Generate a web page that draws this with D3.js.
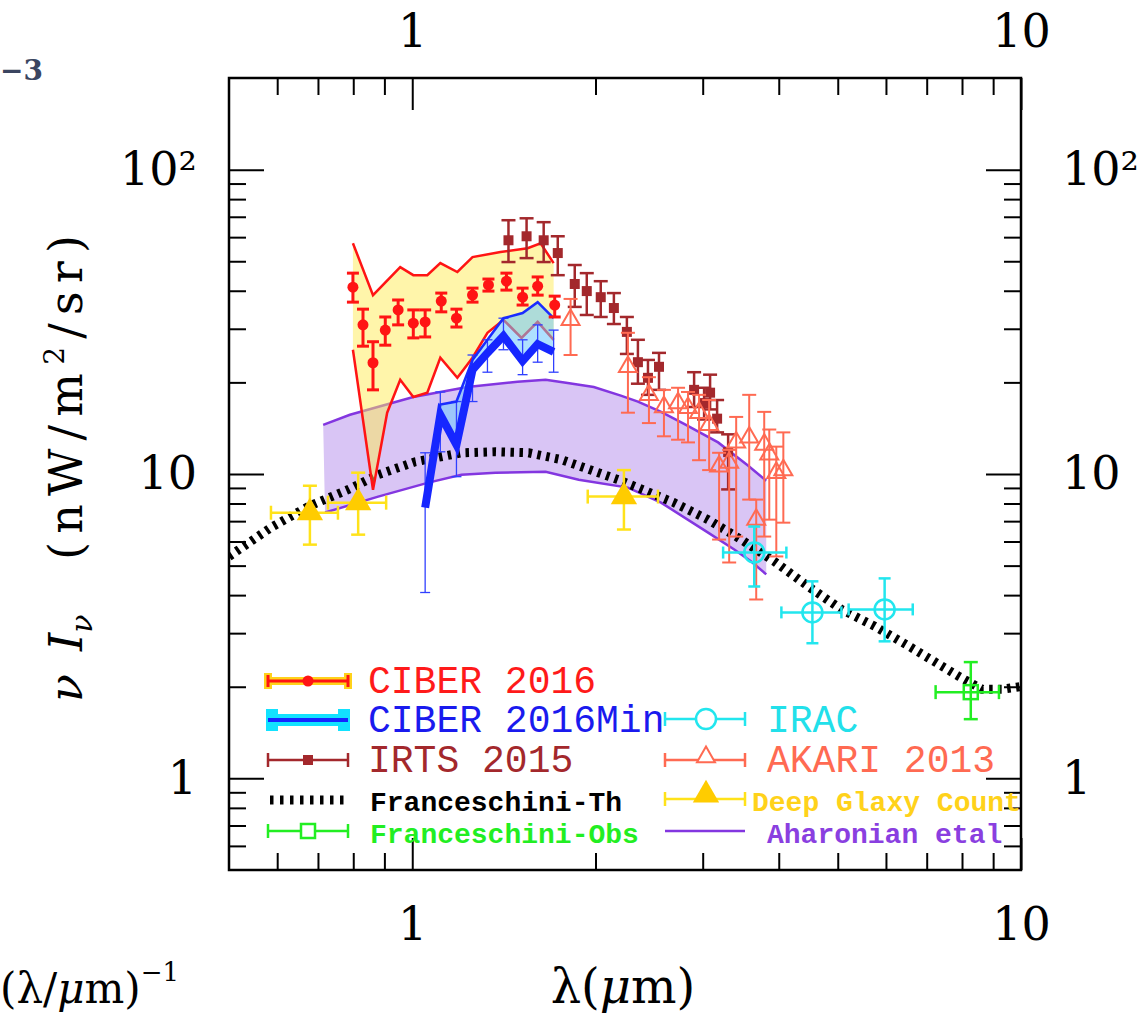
<!DOCTYPE html>
<html lang="en">
<head>
  <meta charset="UTF-8" />
  <title>Extragalactic background light</title>
  <script src="https://d3js.org/d3.v7.min.js"></script>
  <style>
    body { margin: 0; background: #fff; }
    svg { display: block; }
  </style>
</head>
<body>
  <div id="chart"></div>
  <script>
    // ---- data (lambda in um, nu I_nu in nW/m2/sr) ----
    const franTh = [[0.5,5.36],[0.586,6.67],[0.674,7.81],[0.784,8.88],[0.879,9.95],[1.011,10.97],[1.204,11.74],[1.37,11.83],[1.553,11.74],[1.76,11.14],[2.201,9.51],[2.692,8.05],[3.062,7.08],[3.47,6.09],[3.933,5.16],[4.474,4.27],[5.07,3.59],[5.75,3.16],[6.54,2.72],[7.9,2.165],[8.63,1.963],[9.3,1.963],[10.08,2.007]];

    const ahUpper = [[0.714,14.5],[0.79,15.65],[1.004,17.9],[1.232,19.3],[1.489,20.1],[1.656,20.4],[1.8,19.9],[1.987,19.3],[2.201,18.1],[2.348,17.3],[2.563,16.0],[2.796,14.6],[3.18,12.7],[3.564,10.65],[3.815,9.5]];
    const ahLower = [[0.719,7.47],[0.879,8.43],[1.063,9.37],[1.204,9.95],[1.37,10.1],[1.656,10.17],[1.877,9.58],[2.261,9.02],[2.563,8.05],[3.062,6.42],[3.38,5.65],[3.604,5.16],[3.815,4.68]];

    const ciberUpper = [[0.799,57.3],[0.862,38.7],[0.9555,47.8],[1.004,45.0],[1.0585,45.0],[1.112,49.3],[1.186,46.1],[1.256,51.6],[1.396,53.6],[1.547,55.2],[1.625,57.3],[1.707,49.3]];
    const ciberLower = [[0.799,25.6],[0.862,8.88],[0.9095,15.9],[0.9555,20.4],[1.004,17.9],[1.0585,18.5],[1.112,24.1],[1.186,20.7],[1.256,24.1],[1.329,29.1],[1.412,32.1],[1.512,28.0],[1.607,31.6],[1.707,27.6]];
    // lambda, value, low, high
    const ciberPts = [[0.799,41.1,36.7,45.7],[0.83,30.9,26.3,34.8],[0.862,23.2,18.9,27.2],[0.903,29.7,26.5,32.8],[0.948,34.6,30.9,37.3],[1.004,31.3,28.0,34.6],[1.05,31.6,28.2,34.6],[1.116,37.0,34.1,39.3],[1.182,32.5,30.4,34.8],[1.256,38.7,36.7,40.8],[1.334,41.8,39.9,43.7],[1.428,43.0,40.2,45.7],[1.518,38.1,35.9,40.8],[1.607,41.4,38.7,44.4],[1.714,35.9,32.8,38.4]];

    const minLam  = [1.05, 1.112, 1.182, 1.256, 1.329, 1.412, 1.518, 1.607, 1.707];
    const minLow  = [7.75, 15.65, 12.48, 21.98, 25.0, 28.4, 23.5, 26.7, 25.2];
    const minHigh = [7.93, 16.9, 17.3, 23.7, 27.6, 32.5, 33.8, 36.7, 32.5];
    const minErrLo = [4.08, 11.83, 9.8, 17.3, 21.6, 25.6, 21.2, 23.3, 21.6];
    const minErrHi = [11.74, 18.6, 17.3, 24.6, 27.6, 32.5, 27.6, 30.9, 29.7];

    const irts = [[1.439,58.6,49.7,68.2],[1.541,60.4,51.2,69.2],[1.644,58.6,49.7,67.2],[1.734,53.2,45.0,60.4],[1.849,42.1,35.4,48.6],[1.935,39.9,33.3,45.7],[2.04,38.1,32.8,43.0],[2.144,35.1,31.1,39.3],[2.252,29.3,24.8,32.8],[2.348,23.3,19.8,27.6],[2.439,20.7,18.2,23.7],[2.543,22.5,18.9,25.0],[2.904,18.9,16.6,21.6],[3.016,17.1,15.1,19.2],[3.085,18.5,16.3,21.2],[3.168,15.2,13.7,17.5],[3.303,11.8,8.9,13.5]];

    const akari = [[1.82,32.1,24.6,37.6],[2.261,22.5,15.9,29.1],[2.448,18.2,14.7,20.8],[2.591,16.6,13.3,18.9],[2.733,17.1,12.96,19.2],[2.838,16.5,12.7,18.6],[2.959,15.9,11.1,18.2],[3.074,14.5,10.3,17.5],[3.192,10.6,6.09,11.74],[3.316,10.9,5.12,12.0],[3.405,12.7,6.23,15.4],[3.577,13.2,8.24,18.2],[3.673,7.08,3.87,8.24],[3.786,12.5,6.23,16.0],[3.859,11.6,7.08,14.0],[3.963,10.1,5.36,12.3],[4.07,10.3,6.92,13.7]];

    // lambda, value, lamLo, lamHi, low, high
    const irac = [[3.646,5.52,3.241,4.117,4.27,6.72],[4.543,3.51,4.04,5.07,2.78,4.44],[5.97,3.59,5.21,6.64,2.82,4.54]];
    const franObs = [[8.27,1.92,7.24,9.2,1.565,2.41]];
    const deepCount = [[0.679,7.46,0.586,0.755,5.86,9.15],[0.815,8.05,0.727,0.906,6.32,10.1],[2.227,8.43,1.942,2.533,6.57,10.3]];

    const xMajor = [1, 10];
    const xMinor = [0.6, 0.7, 0.8, 0.9, 2, 3, 4, 5, 6, 7, 8, 9];
    const yMajor = [1, 10, 100];
    const yMinor = [0.6, 0.7, 0.8, 0.9, 2, 3, 4, 5, 6, 7, 8, 9, 20, 30, 40, 50, 60, 70, 80, 90];
    const yLabels = {1: "1", 10: "10", 100: "10\u00b2"};

    // ---- layout ----
    const width = 1147, height = 1022;
    const L = 229, R = 1021, T = 78, B = 870;

    const svg = d3.select("#chart").append("svg")
      .attr("width", width).attr("height", height);

    const x = d3.scaleLog().domain([0.5, 10]).range([L, R]);
    const y = d3.scaleLog().domain([0.5, 200]).range([B, T]);

    svg.append("defs").append("clipPath").attr("id", "clip")
      .append("rect").attr("x", L).attr("y", T).attr("width", R - L).attr("height", B - T);

    const plot = svg.append("g").attr("clip-path", "url(#clip)");
    const line = d3.line().x(d => x(d[0])).y(d => y(d[1]));

    function errV(g, l, lo, hi, color, w, cap) {
      const px = x(l);
      g.append("line").attr("x1", px).attr("x2", px).attr("y1", y(lo)).attr("y2", y(hi))
        .attr("stroke", color).attr("stroke-width", w);
      [lo, hi].forEach(v => g.append("line")
        .attr("x1", px - cap / 2).attr("x2", px + cap / 2).attr("y1", y(v)).attr("y2", y(v))
        .attr("stroke", color).attr("stroke-width", w));
    }
    function errH(g, v, lo, hi, color, w, cap) {
      const py = y(v);
      g.append("line").attr("x1", x(lo)).attr("x2", x(hi)).attr("y1", py).attr("y2", py)
        .attr("stroke", color).attr("stroke-width", w);
      [lo, hi].forEach(l => g.append("line")
        .attr("x1", x(l)).attr("x2", x(l)).attr("y1", py - cap / 2).attr("y2", py + cap / 2)
        .attr("stroke", color).attr("stroke-width", w));
    }

    // Aharonian band
    plot.append("path")
      .attr("d", line(ahUpper.concat(ahLower.slice().reverse())) + "Z")
      .attr("fill", "#d9c5f5").attr("stroke", "none");
    [ahUpper, ahLower].forEach(s => plot.append("path").attr("d", line(s))
      .attr("fill", "none").attr("stroke", "#8336e0").attr("stroke-width", 2.5));

    // Franceschini theory
    plot.append("path").attr("d", line(franTh))
      .attr("fill", "none").attr("stroke", "#000").attr("stroke-width", 9)
      .attr("stroke-dasharray", "3.5 5.5");

    // CIBER 2016 band
    plot.append("path")
      .attr("d", line(ciberUpper.concat(ciberLower.slice().reverse())) + "Z")
      .attr("fill", "#ffeb55").attr("fill-opacity", 0.5);
    [ciberUpper, ciberLower].forEach(s => plot.append("path").attr("d", line(s))
      .attr("fill", "none").attr("stroke", "#ff1414").attr("stroke-width", 2.5));

    // CIBER 2016 Min band
    const minLowPts = minLam.map((l, i) => [l, minLow[i]]);
    const minHighPts = minLam.map((l, i) => [l, minHigh[i]]);
    plot.append("path")
      .attr("d", line(minHighPts.concat(minLowPts.slice().reverse())) + "Z")
      .attr("fill", "#6cc6ff").attr("fill-opacity", 0.55);
    minLam.forEach((l, i) => errV(plot, l, minErrLo[i], minErrHi[i], "#3040ff", 1.3, 10));
    plot.append("path").attr("d", line(minHighPts))
      .attr("fill", "none").attr("stroke", "#1a2cff").attr("stroke-width", 2.5);
    plot.append("path").attr("d", line(minLowPts))
      .attr("fill", "none").attr("stroke", "#1626ff").attr("stroke-width", 8)
      .attr("stroke-linejoin", "miter");

    // CIBER 2016 points
    ciberPts.forEach(d => errV(plot, d[0], d[2], d[3], "#ff1414", 3, 12));
    plot.selectAll("circle.ciber").data(ciberPts).enter().append("circle")
      .attr("cx", d => x(d[0])).attr("cy", d => y(d[1])).attr("r", 5.5).attr("fill", "#ff1414");

    // IRTS 2015
    irts.forEach(d => errV(plot, d[0], d[2], d[3], "#a3282c", 2.5, 14));
    plot.selectAll("rect.irts").data(irts).enter().append("rect")
      .attr("x", d => x(d[0]) - 5).attr("y", d => y(d[1]) - 5)
      .attr("width", 10).attr("height", 10).attr("fill", "#a3282c");

    // AKARI 2013
    const tri = d3.symbol(d3.symbolTriangle);
    akari.forEach(d => errV(plot, d[0], d[2], d[3], "#ff6a52", 2, 14));
    plot.selectAll("path.akari").data(akari).enter().append("path")
      .attr("d", tri.size(140)())
      .attr("transform", d => `translate(${x(d[0])},${y(d[1])})`)
      .attr("fill", "none").attr("stroke", "#ff6a52").attr("stroke-width", 2);

    // Deep galaxy counts
    deepCount.forEach(d => {
      errV(plot, d[0], d[4], d[5], "#ffe21a", 2.5, 14);
      errH(plot, d[1], d[2], d[3], "#ffe21a", 2.5, 14);
    });
    plot.selectAll("path.deep").data(deepCount).enter().append("path")
      .attr("d", tri.size(300)())
      .attr("transform", d => `translate(${x(d[0])},${y(d[1])})`)
      .attr("fill", "#ffcc00");

    // IRAC
    irac.forEach(d => {
      errV(plot, d[0], d[4], d[5], "#22e6ee", 2.5, 12);
      errH(plot, d[1], d[2], d[3], "#22e6ee", 2.5, 12);
    });
    plot.selectAll("circle.irac").data(irac).enter().append("circle")
      .attr("cx", d => x(d[0])).attr("cy", d => y(d[1])).attr("r", 10)
      .attr("fill", "none").attr("stroke", "#22e6ee").attr("stroke-width", 2.5);

    // Franceschini observed
    franObs.forEach(d => {
      errV(plot, d[0], d[4], d[5], "#22ee22", 2.5, 14);
      errH(plot, d[1], d[2], d[3], "#22ee22", 2.5, 14);
    });
    plot.selectAll("rect.fobs").data(franObs).enter().append("rect")
      .attr("x", d => x(d[0]) - 7).attr("y", d => y(d[1]) - 7)
      .attr("width", 14).attr("height", 14)
      .attr("fill", "none").attr("stroke", "#22ee22").attr("stroke-width", 2.5);

    // ---- axes ----
    function styleAxis(g) {
      g.select(".domain").remove();
      g.selectAll(".tick line").attr("stroke", "#000").attr("stroke-width", 2);
      g.attr("font-family", "DejaVu Serif, serif").attr("font-size", 46);
      g.selectAll(".tick text").attr("fill", "#000");
    }
    svg.append("g").attr("transform", `translate(0,${B})`)
      .call(d3.axisBottom(x).tickValues(xMinor).tickSize(-17).tickSizeOuter(0).tickFormat(""))
      .call(styleAxis);
    svg.append("g").attr("transform", `translate(0,${B})`)
      .call(d3.axisBottom(x).tickValues(xMajor).tickSize(-32).tickSizeOuter(0).tickPadding(37).tickFormat(d3.format("d")))
      .call(styleAxis);
    svg.append("g").attr("transform", `translate(0,${T})`)
      .call(d3.axisTop(x).tickValues(xMinor).tickSize(-17).tickSizeOuter(0).tickFormat(""))
      .call(styleAxis);
    svg.append("g").attr("transform", `translate(0,${T})`)
      .call(d3.axisTop(x).tickValues(xMajor).tickSize(-32).tickSizeOuter(0).tickPadding(31).tickFormat(d3.format("d")))
      .call(styleAxis);
    svg.append("g").attr("transform", `translate(${L},0)`)
      .call(d3.axisLeft(y).tickValues(yMinor).tickSize(-17).tickSizeOuter(0).tickFormat(""))
      .call(styleAxis);
    svg.append("g").attr("transform", `translate(${L},0)`)
      .call(d3.axisLeft(y).tickValues(yMajor).tickSize(-35).tickSizeOuter(0).tickPadding(32).tickFormat(d => yLabels[d]))
      .call(styleAxis);
    svg.append("g").attr("transform", `translate(${R},0)`)
      .call(d3.axisRight(y).tickValues(yMinor).tickSize(-17).tickSizeOuter(0).tickFormat(""))
      .call(styleAxis);
    svg.append("g").attr("transform", `translate(${R},0)`)
      .call(d3.axisRight(y).tickValues(yMajor).tickSize(-35).tickSizeOuter(0).tickPadding(41).tickFormat(d => yLabels[d]))
      .call(styleAxis);

    svg.append("rect").attr("x", L).attr("y", T).attr("width", R - L).attr("height", B - T)
      .attr("fill", "none").attr("stroke", "#000").attr("stroke-width", 2.5);

    // ---- axis titles ----
    const yt = svg.append("g").attr("transform", "translate(82,0) rotate(-90)")
      .attr("font-family", "DejaVu Serif, serif").attr("font-size", 46).attr("fill", "#000");
    const yt1 = yt.append("text").attr("x", -702).attr("y", 0);
    yt1.append("tspan").attr("font-style", "italic").text("\u03bd\u2002I");
    yt1.append("tspan").attr("font-style", "italic").attr("font-size", 30).attr("dy", 10).text("\u03bd");
    const yt2 = yt.append("text").attr("x", -560).attr("y", 0)
      .attr("textLength", 325).attr("lengthAdjust", "spacing");
    yt2.append("tspan").text("(nW/m");
    yt2.append("tspan").attr("font-size", 28).attr("dy", -18).text("2");
    yt2.append("tspan").attr("dy", 18).text("/sr)");

    const xt = svg.append("text").attr("x", 623).attr("y", 1003).attr("text-anchor", "middle")
      .attr("font-family", "DejaVu Serif, serif").attr("font-size", 48).attr("fill", "#000");
    xt.append("tspan").text("\u03bb(");
    xt.append("tspan").attr("font-style", "italic").text("\u03bc");
    xt.append("tspan").text("m)");

    // fragments of the neighbouring panel
    const xf = svg.append("text").attr("x", 0).attr("y", 1003)
      .attr("font-family", "DejaVu Serif, serif").attr("font-size", 42).attr("fill", "#000");
    xf.append("tspan").text("(\u03bb/");
    xf.append("tspan").attr("font-style", "italic").text("\u03bc");
    xf.append("tspan").text("m)");
    xf.append("tspan").attr("font-size", 26).attr("dy", -22).text("\u22121");
    svg.append("text").attr("x", 0).attr("y", 80)
      .attr("font-family", "DejaVu Serif, serif").attr("font-weight", "bold")
      .attr("font-size", 28).attr("fill", "#3b4560").text("\u22123");

    // ---- legend ----
    const lg = svg.append("g");
    function sample(x0, x1, yy, color, w, cap) {
      lg.append("line").attr("x1", x0).attr("x2", x1).attr("y1", yy).attr("y2", yy)
        .attr("stroke", color).attr("stroke-width", w);
      [x0, x1].forEach(xx => lg.append("line").attr("x1", xx).attr("x2", xx)
        .attr("y1", yy - cap / 2).attr("y2", yy + cap / 2)
        .attr("stroke", color).attr("stroke-width", w));
    }
    // CIBER 2016
    sample(268, 348, 681, "#ffd21a", 8, 16);
    sample(268, 348, 681, "#ff1414", 3, 12);
    lg.append("circle").attr("cx", 308).attr("cy", 681).attr("r", 5.5).attr("fill", "#ff1414");
    // CIBER 2016Min
    sample(272, 344, 720, "#12e2ff", 12, 22);
    lg.append("line").attr("x1", 268).attr("x2", 348).attr("y1", 720).attr("y2", 720)
      .attr("stroke", "#1626ff").attr("stroke-width", 4);
    // IRTS
    sample(268, 348, 760, "#a3282c", 2.5, 14);
    lg.append("rect").attr("x", 303).attr("y", 755).attr("width", 10).attr("height", 10).attr("fill", "#a3282c");
    // Franceschini-Th
    lg.append("line").attr("x1", 270).attr("x2", 348).attr("y1", 800).attr("y2", 800)
      .attr("stroke", "#000").attr("stroke-width", 9).attr("stroke-dasharray", "3.5 6.5");
    // Franceschini-Obs
    sample(268, 348, 831, "#22ee22", 2.5, 14);
    lg.append("rect").attr("x", 301).attr("y", 824).attr("width", 14).attr("height", 14)
      .attr("fill", "#fff").attr("stroke", "#22ee22").attr("stroke-width", 2.5);
    // IRAC
    sample(665, 745, 719, "#22e6ee", 2.5, 14);
    lg.append("circle").attr("cx", 706).attr("cy", 719).attr("r", 10)
      .attr("fill", "#fff").attr("stroke", "#22e6ee").attr("stroke-width", 2.5);
    // AKARI
    sample(665, 745, 760, "#ff6a52", 2.5, 14);
    lg.append("path").attr("d", tri.size(140)()).attr("transform", "translate(706,757)")
      .attr("fill", "#fff").attr("stroke", "#ff6a52").attr("stroke-width", 2);
    // Deep galaxy counts
    sample(665, 745, 799, "#ffe21a", 2.5, 14);
    lg.append("path").attr("d", tri.size(300)()).attr("transform", "translate(706,795)").attr("fill", "#ffcc00");
    // Aharonian
    lg.append("line").attr("x1", 665).attr("x2", 745).attr("y1", 831).attr("y2", 831)
      .attr("stroke", "#8336e0").attr("stroke-width", 2.5);

    const bigNames = [["CIBER 2016", "#ff1a1a", 368, 693], ["CIBER 2016Min", "#1a1aee", 368, 732],
                      ["IRTS 2015", "#a3282c", 368, 772], ["IRAC", "#22e0ea", 767, 732],
                      ["AKARI 2013", "#ff6a52", 767, 772]];
    const smallNames = [["Franceschini-Th", "#000", 370, 811], ["Franceschini-Obs", "#22ee22", 370, 843],
                        ["Deep Glaxy Count", "#ffd21a", 752, 811], ["Aharonian etal", "#8a3fe0", 767, 843]];
    bigNames.forEach(d => lg.append("text").attr("x", d[2]).attr("y", d[3])
      .attr("font-family", "Liberation Mono, DejaVu Sans Mono, monospace").attr("font-size", 38)
      .attr("fill", d[1]).text(d[0]));
    smallNames.forEach(d => lg.append("text").attr("x", d[2]).attr("y", d[3])
      .attr("font-family", "Liberation Mono, DejaVu Sans Mono, monospace").attr("font-size", 28)
      .attr("font-weight", "bold").attr("fill", d[1]).text(d[0]));
  </script>
</body>
</html>
